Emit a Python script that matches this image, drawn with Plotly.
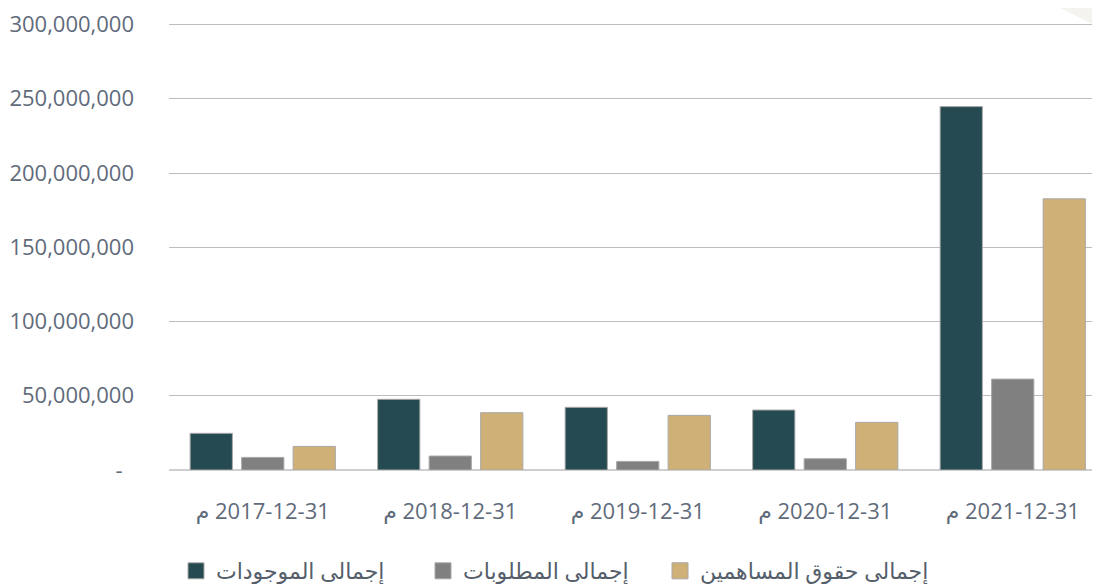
import plotly.graph_objects as go

categories = ["\u200eم\u200e 2017-12-31", "\u200eم\u200e 2018-12-31", "\u200eم\u200e 2019-12-31",
              "\u200eم\u200e 2020-12-31", "\u200eم\u200e 2021-12-31"]
assets = [24.7e6, 47.6e6, 42.2e6, 40.4e6, 244.7e6]
liabilities = [8.5e6, 9.4e6, 5.8e6, 7.6e6, 61.2e6]
equity = [15.9e6, 38.6e6, 36.8e6, 32.1e6, 182.6e6]
series_names = ["إجمالى الموجودات", "إجمالى المطلوبات", "إجمالى حقوق المساهمين"]
series_colors = ["#254a51", "#808080", "#cfb076"]
tick_vals = [0, 50e6, 100e6, 150e6, 200e6, 250e6, 300e6]
tick_text = ["-\u00a0\u00a0", "50,000,000", "100,000,000", "150,000,000",
             "200,000,000", "250,000,000", "300,000,000"]

# page body has an 8px default margin: figure px = window px - OFF
OFF = 8
W, H = 1100, 584
L = 169 - OFF           # plot left at window 169
R = W - (1100 - OFF)    # plot right at window 1100
T = 23 - OFF            # plot top at window 23 (301M)
B = H - (470 - OFF)     # plot bottom at window 470
TEXT = "#5f6b7b"
FONT = "Open Sans, DejaVu Sans, sans-serif"

fig = go.Figure()
for name, vals, col in zip(series_names, [assets, liabilities, equity], series_colors):
    fig.add_trace(go.Bar(x=categories, y=vals, name=name, showlegend=False,
                         marker=dict(color=col, line=dict(color="#a8a8a8", width=1))))

legend_x = [176, 423, 660]  # window px of each legend entry's left edge
for i, (name, col) in enumerate(zip(series_names, series_colors)):
    lid = "legend" if i == 0 else f"legend{i+1}"
    fig.add_trace(go.Scatter(x=[None], y=[None], mode="markers", name=name,
                             legend=lid, showlegend=True,
                             marker=dict(symbol="square", size=16, color=col,
                                         line=dict(color="#a8a8a8", width=1))))

legend_common = dict(xref="container", yref="container", xanchor="left", yanchor="middle",
                     y=1 - (571 - OFF) / H, orientation="h", bgcolor="rgba(0,0,0,0)",
                     font=dict(family=FONT, size=22, color="#555e6b"),
                     itemsizing="trace", borderwidth=0)
legends = {}
for i, lx in enumerate(legend_x):
    lid = "legend" if i == 0 else f"legend{i+1}"
    legends[lid] = dict(legend_common, x=(lx - OFF) / W)

pw = W - L - R
ph = H - T - B
px_per_cat = 187.5

def px_to_paper_x(wx):
    return (wx - OFF - L) / pw

def px_to_paper_y(wy):
    return (H - B - (wy - OFF)) / ph

fig.update_layout(
    width=W, height=H,
    margin=dict(l=L, r=R, t=T, b=B, autoexpand=False),
    paper_bgcolor="white", plot_bgcolor="white",
    barmode="group", bargap=0.176, bargroupgap=0.18,
    font=dict(family=FONT, size=22, color=TEXT),
    xaxis=dict(type="category", range=[-0.5, -0.5 + pw / px_per_cat],
               showgrid=False, showline=False, zeroline=False, ticks="",
               ticklabelstandoff=26, tickfont=dict(size=22, color=TEXT)),
    yaxis=dict(range=[0, 300e6 * 447 / 445.5], tickvals=tick_vals, ticktext=tick_text,
               showgrid=True, gridcolor="#bdbdbd", gridwidth=1.3,
               zeroline=True, zerolinecolor="#cfcfcf", zerolinewidth=2,
               showline=False, ticks="", ticklabelstandoff=34,
               tickfont=dict(size=22, color=TEXT)),
    shapes=[dict(type="path", xref="paper", yref="paper", layer="below",
                 path=(f"M {px_to_paper_x(1045)},{px_to_paper_y(0)} "
                       f"L {px_to_paper_x(1100)},{px_to_paper_y(0)} "
                       f"L {px_to_paper_x(1100)},{px_to_paper_y(28)} Z"),
                 fillcolor="#f5f3f0", line=dict(width=0))],
    **legends,
)

fig.write_html("out.html")
